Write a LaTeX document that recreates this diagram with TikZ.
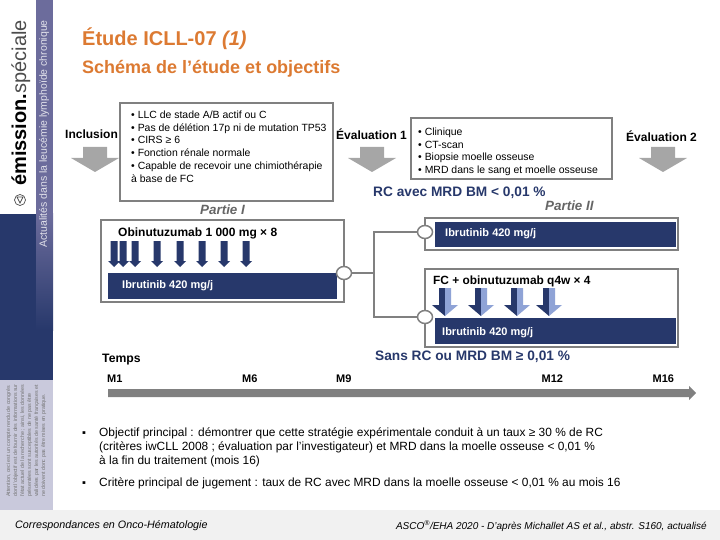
\documentclass[tikz,border=0pt]{standalone}
\usepackage{fontspec}
\setmainfont{Liberation Sans}
\usepackage{xcolor}
\usetikzlibrary{arrows.meta,positioning,calc,shapes.geometric}
\definecolor{navy}{HTML}{27386B}
\definecolor{band}{HTML}{6C6C9C}
\definecolor{paleband}{HTML}{C9C9DC}
\definecolor{rim}{HTML}{808080}
\definecolor{orangetitle}{HTML}{DC7A32}
\definecolor{pale}{HTML}{8FA3D6}
\definecolor{foot}{HTML}{F1F1F1}

\begin{document}
\begin{tikzpicture}[
  x=1pt, y=-1pt,
  framebox/.style={draw=rim, line width=1.5pt, fill=white},
  txt/.style={inner sep=0pt, anchor=west, font=\fontsize{12}{14}\selectfont\bfseries},
  listtxt/.style={inner sep=0pt, anchor=north west, align=left, font=\fontsize{10.45}{12.8}\selectfont},
  bartxt/.style={inner sep=0pt, anchor=west, text=white, font=\fontsize{11}{13}\selectfont\bfseries},
  navytxt/.style={txt, text=navy, font=\fontsize{13.7}{16}\selectfont\bfseries},
  parttxt/.style={inner sep=0pt, anchor=west, text=black!60, font=\fontsize{13.4}{16}\selectfont\bfseries\itshape},
  monthtxt/.style={txt, font=\fontsize{11}{13}\selectfont\bfseries},
  bodytxt/.style={inner sep=0pt, anchor=north west, align=left, font=\fontsize{11.9}{14}\selectfont},
  dottxt/.style={inner sep=0pt, anchor=west, font=\fontsize{11}{12}\selectfont},
  foottxt/.style={inner sep=0pt, anchor=west, font=\fontsize{10}{12}\selectfont\itshape},
  knob/.style={ellipse, draw=rim, line width=1.5pt, fill=white, minimum width=15pt, minimum height=13pt, inner sep=0pt},
  link/.style={draw=rim, line width=1.5pt},
]
\useasboundingbox (0,0) rectangle (720,540);

% Side band
\fill[band] (36,0) rectangle (53,215);
\fill[navy] (0,214) rectangle (53,380);
\shade[top color=band, bottom color=navy] (36,214) rectangle (53,330);
\fill[paleband] (0,380) rectangle (53,510);
\fill[foot] (0,510) rectangle (720,540);
\node[rotate=90, anchor=base west, inner sep=0pt, font=\fontsize{20}{22}\selectfont] (brand) at (26,186)
  {\textbf{émission.}\textcolor{black!70}{spéciale}};
\node[circle, draw=black!70, line width=0.7pt, minimum size=11pt, inner sep=0pt] (logo) at (20,200) {};
\draw[black!70, line width=0.7pt] (17,197) -- (23,197) -- (20,203) -- cycle;
\node[rotate=90, anchor=west, inner sep=0pt, text=white!80!band, font=\fontsize{10.5}{12}\selectfont] (bandtxt) at (44,248)
  {Actualités dans la leucémie lymphoïde chronique};
\node[rotate=90, anchor=north west, inner sep=0pt, align=left, text=black!55, font=\fontsize{5.3}{7}\selectfont] (notice) at (6,497)
  {Attention, ceci est un compte rendu de congrès\\dont l'objectif est de fournir des informations sur\\l'état actuel de la recherche ; ainsi, les données\\présentées sont susceptibles de ne pas être\\validées par les autorités de santé françaises et\\ne doivent donc pas être mises en pratique.};

% Titles
\node[inner sep=0pt, anchor=west, text=orangetitle, font=\fontsize{20}{24}\selectfont\bfseries] (title) at (82,39)
  {Étude ICLL-07 \textit{(1)}};
\node[inner sep=0pt, anchor=west, text=orangetitle, font=\fontsize{18}{20}\selectfont\bfseries] (subtitle) at (82,69)
  {Schéma de l’étude et objectifs};

% Upper row
\filldraw[framebox] (120,103) rectangle (333,201);
\filldraw[framebox] (411,118) rectangle (612,179);
\node[txt] (inclusion) at (65,134) {Inclusion};
\node[txt] (eval1) at (336,134) {Évaluation 1};
\node[txt] (eval2) at (626,136) {Évaluation 2};
\node[listtxt] (criteria) at (131,110.5) {• LLC de stade A/B actif ou C\\• Pas de délétion 17p ni de mutation TP53\\• CIRS ≥ 6\\• Fonction rénale normale\\• Capable de recevoir une chimiothérapie\\à base de FC};
\node[listtxt] (exams) at (418,127.5) {• Clinique\\• CT-scan\\• Biopsie moelle osseuse\\• MRD dans le sang et moelle osseuse};
\foreach \x in {95,372,663}
  \fill[black!35] (\x-12,147) -- (\x+12,147) -- (\x+12,158) -- (\x+24,158) -- (\x,172) -- (\x-24,158) -- (\x-12,158) -- cycle;

% Part I
\node[parttxt] (part1) at (200,210) {Partie I};
\filldraw[framebox] (101,220) rectangle (344,302);
\fill[navy] (108,273) rectangle (337,299);
\node[txt] (obinu) at (118,233) {Obinutuzumab 1 000 mg × 8};
\node[bartxt] (ibru1) at (122,285.5) {Ibrutinib 420 mg/j};
\foreach \x in {114,123,135,157,180,202,224,246}
  \fill[navy] (\x-3.5,241) -- (\x+3.5,241) -- (\x+3.5,261) -- (\x+6,261) -- (\x,267) -- (\x-6,261) -- (\x-3.5,261) -- cycle;

% Part II
\node[navytxt] (rcyes) at (373,193) {RC avec MRD BM < 0,01 \%};
\node[parttxt] (part2) at (545,206) {Partie II};
\filldraw[framebox] (425,218) rectangle (678,250);
\fill[navy] (435,222) rectangle (676,247);
\node[bartxt] (ibru2) at (445,234) {Ibrutinib 420 mg/j};
\filldraw[framebox] (425,269) rectangle (678,347);
\fill[navy] (435,318) rectangle (676,344);
\node[txt, font=\fontsize{11.9}{14}\selectfont\bfseries] (fcobinu) at (433,281) {FC + obinutuzumab q4w × 4};
\node[bartxt] (ibru3) at (442,333) {Ibrutinib 420 mg/j};
\foreach \x in {445,481,517,549} {
  \fill[navy] (\x-6,288) -- (\x,288) -- (\x,316) -- (\x-13,305) -- (\x-6,305) -- cycle;
  \fill[pale] (\x,288) -- (\x+6,288) -- (\x+6,305) -- (\x+13,305) -- (\x,316) -- cycle;
}
\node[navytxt] (rcno) at (375,357) {Sans RC ou MRD BM ≥ 0,01 \%};

% Randomisation links
\node[knob] (knob1) at (344,273) {};
\node[knob] (knob2) at (425,232) {};
\node[knob] (knob3) at (425,317) {};
\coordinate (fork) at (374,273);
\draw[link] (knob1) -- (fork);
\draw[link] (knob2) -| (fork);
\draw[link] (knob3) -| (fork);

% Time axis
\node[monthtxt, font=\fontsize{12.2}{14}\selectfont\bfseries] (temps) at (102,359.5) {Temps};
\node[monthtxt] (m1) at (107,379) {M1};
\node[monthtxt] (m6) at (242,379) {M6};
\node[monthtxt] (m9) at (336,379) {M9};
\node[monthtxt] (m12) at (541.5,379) {M12};
\node[monthtxt] (m16) at (652.5,379) {M16};
\fill[black!50] (108,389) -- (689,389) -- (689,386) -- (696,393) -- (689,400) -- (689,397) -- (108,397) -- cycle;

% Objectives
\node[dottxt] (dot1) at (82,434) {▪};
\node[bodytxt] (goal) at (99,427.5) {Objectif principal : démontrer que cette stratégie expérimentale conduit à un taux ≥ 30 \% de RC\\(critères iwCLL 2008 ; évaluation par l'investigateur) et MRD dans la moelle osseuse < 0,01 \%\\à la fin du traitement (mois 16)};
\node[dottxt] (dot2) at (82,484) {▪};
\node[bodytxt] (endpoint) at (99,477.5) {Critère principal de jugement : taux de RC avec MRD dans la moelle osseuse < 0,01 \% au mois 16};

% Footer
\node[foottxt, font=\fontsize{10.75}{12}\selectfont\itshape] (journal) at (15,526) {Correspondances en Onco-Hématologie};
\node[foottxt, anchor=east] (source) at (707,526) {ASCO\textsuperscript{®}/EHA 2020 - D'après Michallet AS et al., abstr. S160, actualisé};
\end{tikzpicture}
\end{document}
